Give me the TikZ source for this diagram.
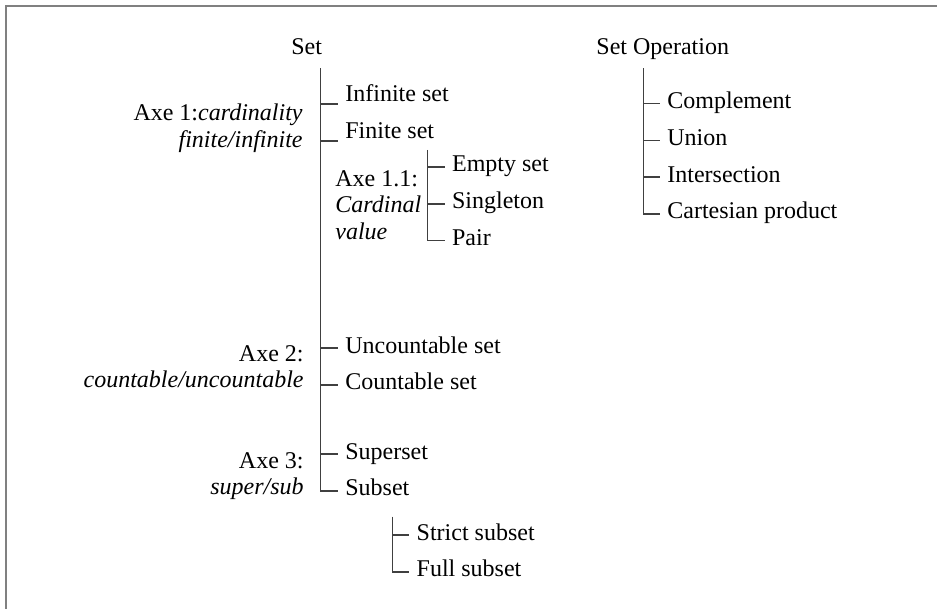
\documentclass[tikz,border=0pt]{standalone}
\usepackage{fontspec}
\setmainfont{Liberation Serif}
\usetikzlibrary{positioning,calc}

\begin{document}
\begin{tikzpicture}[
    x=0.5pt, y=-0.5pt,
    font=\fontsize{12}{13.25}\selectfont,
    title/.style={anchor=base west, inner sep=0pt},
    item/.style={anchor=west, inner xsep=3.5pt, inner ysep=0pt, text height=8pt, text depth=3pt},
    axisr/.style={anchor=north east, align=right, inner sep=0pt},
    axisl/.style={anchor=north west, align=left, inner sep=0pt},
    branch/.style={draw=black!75, line width=0.75pt},
    frame/.style={draw=black!50, line width=1pt}
  ]
    \useasboundingbox (0,0) rectangle (937,609);
    \draw[frame] (6,609) -- (6,6) -- (937,6);

    \node[title] (setT) at (291,55) {Set};
    \node[title] (opT) at (596,55) {Set Operation};
    \coordinate (setTop) at (320.5,68.3);
    \coordinate (opTop) at (643.3,68.3);
    \coordinate (cardTop) at (427.7,150);
    \coordinate (subTop) at (392.3,516.7);

    \node[item] (inf) at (338,96.7) {Infinite set};
    \node[item, below right=7pt and 0pt of inf.south west] (fin) {Finite set};
    \node[item] (unc) at (338,348) {Uncountable set};
    \node[item, below right=7pt and 0pt of unc.south west] (cnt) {Countable set};
    \node[item] (sup) at (338,454) {Superset};
    \node[item, below right=7pt and 0pt of sup.south west] (sub) {Subset};

    \node[item] (emp) at (444.7,167) {Empty set};
    \node[item, below right=7pt and 0pt of emp.south west] (sgl) {Singleton};
    \node[item, below right=7pt and 0pt of sgl.south west] (pair) {Pair};

    \node[item] (strict) at (409.3,535) {Strict subset};
    \node[item, below right=7pt and 0pt of strict.south west] (full) {Full subset};

    \node[item] (cmp) at (660,103.5) {Complement};
    \node[item, below right=7pt and 0pt of cmp.south west] (uni) {Union};
    \node[item, below right=7pt and 0pt of uni.south west] (isc) {Intersection};
    \node[item, below right=7pt and 0pt of isc.south west] (cart) {Cartesian product};

    \node[axisr] (ax1) at (303,103.6) {Axe 1:\textit{cardinality}\\\textit{finite/infinite}};
    \node[axisl] (ax11) at (335,169.8) {Axe 1.1:\\\textit{Cardinal}\\\textit{value}};
    \node[axisr] (ax2) at (304,344.8) {Axe 2:\\\textit{countable/uncountable}};
    \node[axisr] (ax3) at (304,451.8) {Axe 3:\\\textit{super/sub}};

    \draw[branch] (setTop) |- (sub.west);
    \draw[branch] ($(setTop |- inf.base west)+(0,2.5)$) -- ($(inf.base west)+(0,2.5)$);
    \draw[branch] ($(setTop |- fin.base west)+(0,2.5)$) -- ($(fin.base west)+(0,2.5)$);
    \draw[branch] (setTop |- unc.west) -- (unc.west);
    \draw[branch] (setTop |- cnt.west) -- (cnt.west);
    \draw[branch] (setTop |- sup.west) -- (sup.west);
    \draw[branch] (cardTop) |- (pair.west);
    \draw[branch] (cardTop |- emp.west) -- (emp.west);
    \draw[branch] (cardTop |- sgl.west) -- (sgl.west);
    \draw[branch] (subTop) |- (full.west);
    \draw[branch] (subTop |- strict.west) -- (strict.west);
    \draw[branch] (opTop) |- (cart.west);
    \draw[branch] (opTop |- cmp.west) -- (cmp.west);
    \draw[branch] (opTop |- uni.west) -- (uni.west);
    \draw[branch] (opTop |- isc.west) -- (isc.west);
  \end{tikzpicture}
\end{document}
